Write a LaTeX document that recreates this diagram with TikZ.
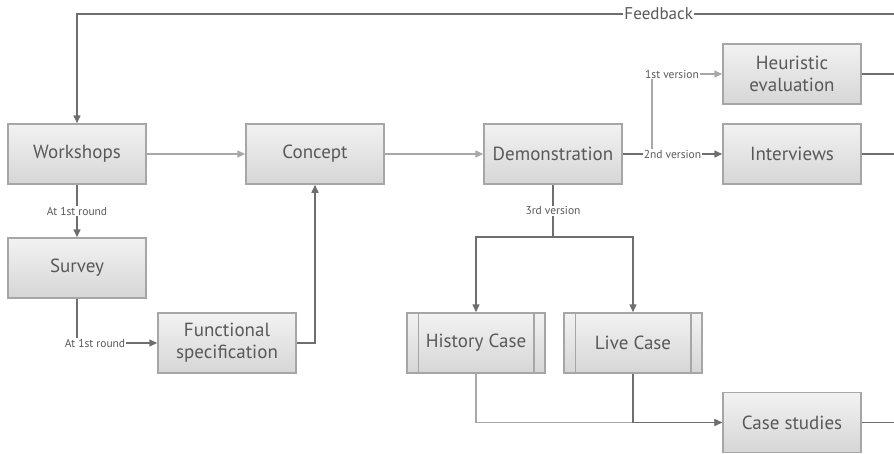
\documentclass[tikz,border=0pt]{standalone}
\usepackage{fontspec}
\setmainfont{PT Sans}
\usetikzlibrary{arrows.meta,calc}
\definecolor{dline}{HTML}{6E6E6E}
\definecolor{lline}{HTML}{A8A8A8}
\definecolor{bborder}{HTML}{A6A6A6}
\definecolor{btop}{HTML}{F2F2F2}
\definecolor{bbot}{HTML}{D6D6D6}
\definecolor{txt}{HTML}{595959}
\tikzset{
  box/.style={draw=bborder, line width=1.5pt, top color=btop, bottom color=bbot,
    minimum width=138pt, minimum height=60pt, inner sep=0pt, align=center,
    text=txt, font=\fontsize{19}{22}\selectfont},
  dark/.style={draw=dline, line width=1.5pt},
  light/.style={draw=lline, line width=1.5pt},
  arr/.style={-{Triangle[length=8pt,width=7pt]}},
  lbl/.style={fill=white, inner sep=1pt, text=txt, font=\fontsize{11.5}{13}\selectfont},
}
\begin{document}
\begin{tikzpicture}[x=1pt,y=-1pt]
\useasboundingbox (0,0) rectangle (894,453);
\node[box] (work) at (77,154) {Workshops};
\node[box] (conc) at (315,154) {Concept};
\node[box] (demo) at (553,154) {Demonstration};
\node[box] (heur) at (792,74) {Heuristic\\evaluation};
\node[box] (intv) at (792,154) {Interviews};
\node[box] (surv) at (77,268) {Survey};
\node[box] (func) at (227,343) {Functional\\specification};
\node[box] (hist) at (476,343) {History Case};
\node[box] (live) at (633,343) {Live Case};
\node[box] (case) at (792,422.5) {Case studies};
\foreach \n in {hist,live}{
  \draw[draw=bborder, line width=1.5pt] ([xshift=12pt]\n.north west) -- ([xshift=12pt]\n.south west);
  \draw[draw=bborder, line width=1.5pt] ([xshift=-12pt]\n.north east) -- ([xshift=-12pt]\n.south east);
}
% edge coordinates
\coordinate (fbR) at (894,14);
\coordinate (heR) at (894,74);
\coordinate (inR) at (894,154);
\coordinate (caR) at (894,422.5);
% feedback loop
\draw[dark,arr] (fbR) -| (work.north) node[pos=0.144, lbl, font=\fontsize{17}{19}\selectfont] {Feedback};
\draw[dark] (heur.east) -- (heR);
\draw[dark] (intv.east) -- (inR);
\draw[dark] (case.east) -- (caR);
% main flow
\draw[light,arr] (work.east) -- (conc.west);
\draw[light,arr] (conc.east) -- (demo.west);
\draw[dark,arr] (work.south) -- node[lbl] {At 1st round} (surv.north);
\draw[dark,arr] (surv.south) |- (func.west) node[pos=0.5, lbl, xshift=18pt] {At 1st round};
\draw[dark,arr] (func.east) -| (conc.south);
% demonstration branches
\coordinate (j1) at (652,154);
\draw[light,arr] (j1) |- (heur.west) node[pos=0.5, lbl, xshift=20pt] {1st version};
\draw[dark,arr] (demo.east) -- node[lbl, pos=0.5] {2nd version} (intv.west);
\coordinate (j3) at (553,237);
\draw[dark] (demo.south) -- node[lbl] {3rd version} (j3);
\draw[dark,arr] (j3) -| (hist.north);
\draw[dark,arr] (j3) -| (live.north);
% case studies
\draw[light,arr] (hist.south) |- (case.west);
\draw[dark,arr] (live.south) |- (case.west);
\end{tikzpicture}
\end{document}
